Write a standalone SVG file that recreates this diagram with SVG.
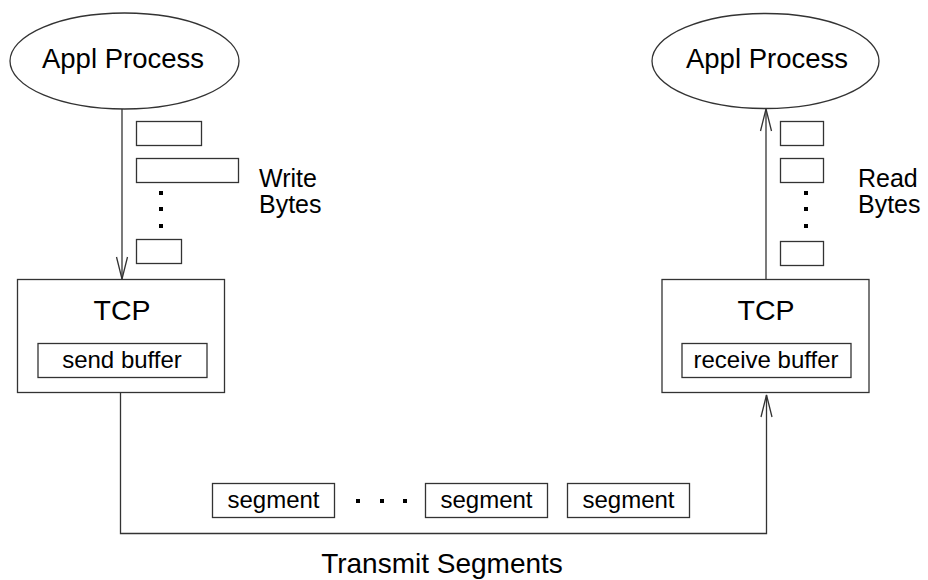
<svg xmlns="http://www.w3.org/2000/svg" width="928" height="580" viewBox="0 0 928 580">
  <style>
    .shape { fill: #fff; stroke: #333; stroke-width: 1.3; }
    .line { fill: none; stroke: #333; stroke-width: 1.3; }
    .t { font-family: "Liberation Sans", Arial, sans-serif; fill: #000; }
    .proc { font-size: 27.5px; }
    .big { font-size: 25px; }
    .tcp { font-size: 28.5px; }
    .cap { font-size: 28px; }
    .small { font-size: 24px; }
    .mid { text-anchor: middle; }
    .dot { fill: #000; }
  </style>
  <defs>
    <marker id="openArrow" markerWidth="24" markerHeight="12" refX="22" refY="6" orient="auto" markerUnits="userSpaceOnUse" viewBox="0 0 24 12" overflow="visible">
      <path d="M0,0.5 L22,6 L0,11.5" fill="none" stroke="#333" stroke-width="1.3"/>
    </marker>
  </defs>

  <!-- sending application -->
  <g id="appl-send">
    <ellipse class="shape" cx="124.5" cy="61" rx="114.5" ry="48"/>
    <text class="t proc mid" x="123" y="68">Appl Process</text>
  </g>

  <!-- receiving application -->
  <g id="appl-recv">
    <ellipse class="shape" cx="765.5" cy="61" rx="113.5" ry="47.5"/>
    <text class="t proc mid" x="767" y="68">Appl Process</text>
  </g>

  <!-- sending TCP -->
  <g id="tcp-send">
    <rect class="shape" x="17.5" y="279.5" width="207" height="113"/>
    <text class="t tcp mid" x="122" y="320">TCP</text>
    <rect class="shape" x="38" y="343.5" width="169" height="34"/>
    <text class="t small mid" x="122" y="368">send buffer</text>
  </g>

  <!-- receiving TCP -->
  <g id="tcp-recv">
    <rect class="shape" x="662" y="279.5" width="207" height="113"/>
    <text class="t tcp mid" x="766" y="320">TCP</text>
    <rect class="shape" x="682" y="343.5" width="169" height="34"/>
    <text class="t small mid" x="766" y="368">receive buffer</text>
  </g>

  <!-- bytes written -->
  <g id="write-bytes">
    <rect class="shape" x="136.5" y="121.5" width="65" height="24"/>
    <rect class="shape" x="136.5" y="158.5" width="102" height="24"/>
    <rect class="dot" x="159" y="191" width="4" height="4"/>
    <rect class="dot" x="159" y="207" width="4" height="4"/>
    <rect class="dot" x="159" y="224" width="4" height="4"/>
    <rect class="shape" x="136.5" y="239.5" width="45" height="24"/>
    <text class="t big" x="259" y="187">Write</text>
    <text class="t big" x="259" y="213">Bytes</text>
  </g>

  <!-- bytes read -->
  <g id="read-bytes">
    <rect class="shape" x="780.5" y="121.5" width="43" height="24"/>
    <rect class="shape" x="780.5" y="158.5" width="43" height="24"/>
    <rect class="dot" x="804" y="191" width="4" height="4"/>
    <rect class="dot" x="804" y="207" width="4" height="4"/>
    <rect class="dot" x="804" y="224" width="4" height="4"/>
    <rect class="shape" x="780.5" y="241.5" width="43" height="24"/>
    <text class="t big" x="858" y="187">Read</text>
    <text class="t big" x="858" y="213">Bytes</text>
  </g>

  <!-- segments in transit -->
  <g id="segments">
    <rect class="shape" x="212.5" y="483.5" width="122" height="34"/>
    <text class="t small mid" x="273.5" y="508">segment</text>
    <rect class="dot" x="356" y="499" width="4" height="4"/>
    <rect class="dot" x="380" y="499" width="4" height="4"/>
    <rect class="dot" x="403" y="499" width="4" height="4"/>
    <rect class="shape" x="425.5" y="483.5" width="122" height="34"/>
    <text class="t small mid" x="486.5" y="508">segment</text>
    <rect class="shape" x="567.5" y="483.5" width="122" height="34"/>
    <text class="t small mid" x="628.5" y="508">segment</text>
    <text class="t cap mid" x="442" y="573">Transmit Segments</text>
  </g>

  <!-- connectors -->
  <g id="connectors">
    <path class="line" d="M122,109 L122,279" marker-end="url(#openArrow)"/>
    <path class="line" d="M766,279 L766,109" marker-end="url(#openArrow)"/>
    <path class="line" d="M120.5,393 L120.5,533.5 L766.5,533.5 L766.5,395" marker-end="url(#openArrow)"/>
  </g>
</svg>
